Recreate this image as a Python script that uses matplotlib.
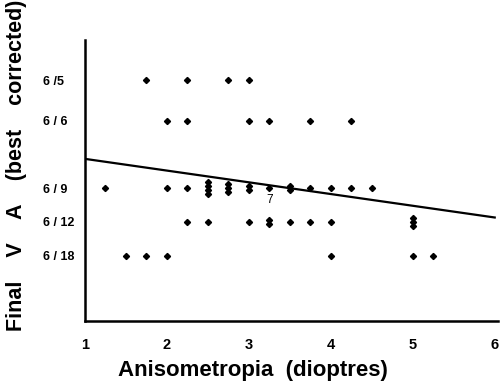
import numpy as np
import matplotlib.pyplot as plt
from matplotlib.transforms import ScaledTranslation

plt.rcParams['font.family'] = ['Liberation Sans', 'DejaVu Sans']

# y axis: final visual acuity (Snellen), plotted as decimal acuity
acuity_labels = ["6 /5", "6 / 6", "6 / 9", "6 / 12", "6 / 18"]
acuity_values = [6 / 5, 6 / 6, 6 / 9, 6 / 12, 6 / 18]

# anisometropia per acuity row, and how many eyes share each spot
row_6_5 = [1.75, 2.25, 2.75, 3.0]
row_6_6 = [2.0, 2.25, 3.0, 3.25, 3.75, 4.25]
row_6_9 = [1.25, 2.0, 2.25, 2.5, 2.75, 3.0, 3.25, 3.5, 3.75, 4.0, 4.25, 4.5]
cnt_6_9 = [1, 1, 1, 4, 3, 2, 1, 2, 1, 1, 1, 1]
row_6_12 = [2.25, 2.5, 3.0, 3.25, 3.5, 3.75, 4.0, 5.0]
cnt_6_12 = [1, 1, 1, 2, 1, 1, 1, 3]
row_6_18 = [1.5, 1.75, 2.0, 4.0, 5.0, 5.25]

rows = [row_6_5, row_6_6, row_6_9, row_6_12, row_6_18]
counts = [[1] * len(row_6_5), [1] * len(row_6_6), cnt_6_9, cnt_6_12,
          [1] * len(row_6_18)]

# regression line
fit_intercept = 0.87
fit_slope = -0.058
fit_x = [1, 6]

fig = plt.figure(figsize=(5.01, 3.88), dpi=100)
ax = fig.add_axes([85 / 501, 1 - 321 / 388, 413 / 501, 281 / 388])

for xs, cs, yv in zip(rows, counts, acuity_values):
    for xv, n in zip(xs, cs):
        for i in range(n):
            dy = (i - (n - 1) / 2) * 3.0 / 72
            tr = ax.transData + ScaledTranslation(0, dy, fig.dpi_scale_trans)
            ax.plot(xv, yv, marker="D", ms=3.1, color="black",
                    linestyle="none", transform=tr)

ax.text(3.25, acuity_values[2], "7", ha="center", va="top", fontsize=8.5,
        transform=ax.transData + ScaledTranslation(0, -4 / 72, fig.dpi_scale_trans))

fx = np.array(fit_x, dtype=float)
ax.plot(fx, fit_intercept + fit_slope * fx, color="black", lw=1.6)

ax.set_xlim(1, 6.04)
ax.set_ylim(0.01, 1.40)
ax.set_xticks([1, 2, 3, 4, 5, 6])
ax.set_xticklabels(["1", "2", "3", "4", "5", "6"], fontweight="bold", fontsize=10.5)
ax.set_yticks(acuity_values)
ax.set_yticklabels(acuity_labels, fontweight="bold", fontsize=9)
for lab in ax.get_yticklabels():
    lab.set_horizontalalignment("left")
ax.tick_params(axis="y", length=0, pad=30)
ax.tick_params(axis="x", length=0, pad=12)

for side in ["top", "right"]:
    ax.spines[side].set_visible(False)
for side in ["left", "bottom"]:
    ax.spines[side].set_linewidth(1.8)

ax.set_xlabel("Anisometropia  (dioptres)", fontweight="bold", fontsize=16)
ax.xaxis.set_label_coords(0.407, -0.175)
ax.xaxis.label.set_va("center")

fig.text(17 / 501, 1 - 165 / 388, "Final    V    A    (best    corrected)",
         rotation=90, ha="center", va="center", fontweight="bold", fontsize=15.5)

fig.savefig("out.png", dpi=100)
